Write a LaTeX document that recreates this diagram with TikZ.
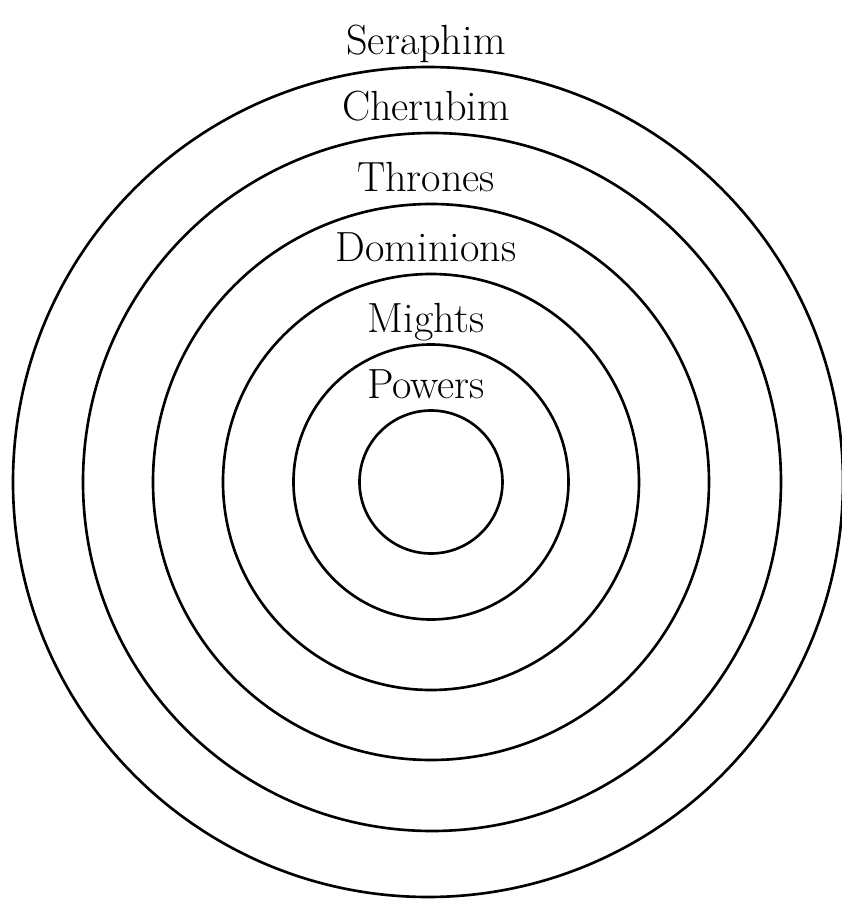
\documentclass[tikz,border=0pt]{standalone}
\usepackage{tikz}
\usetikzlibrary{positioning,calc}
\tikzset{
  ring/.style={draw, circle, line width=1.5pt, inner sep=0pt},
  lbl/.style={anchor=base, inner sep=0pt, font=\fontsize{24}{28}\selectfont}
}
\begin{document}
\begin{tikzpicture}
    \useasboundingbox (-8.62,-8.42) rectangle (8.22,9.64);
    \coordinate (c) at (0,0);
    \node[ring, minimum size=2.86cm] (r1) at (c) {};
    \node[ring, minimum size=5.5cm] (r2) at (c) {};
    \node[ring, minimum size=8.32cm] (r3) at (c) {};
    \node[ring, minimum size=11.12cm] (r4) at (c) {};
    \node[ring, minimum size=13.96cm] (r5) at ($(c)+(0.02,0)$) {};
    \node[ring, minimum size=16.6cm] (r6) at ($(c)+(-0.06,0)$) {};
    \foreach \r/\t in {r1/Powers,r2/Mights,r3/Dominions,r4/Thrones,r5/Cherubim,r6/Seraphim}{
      \node[lbl] (\t) at ($(c |- \r.north)+(-0.1,0.22)$) {\t};
    }
  \end{tikzpicture}
\end{document}
